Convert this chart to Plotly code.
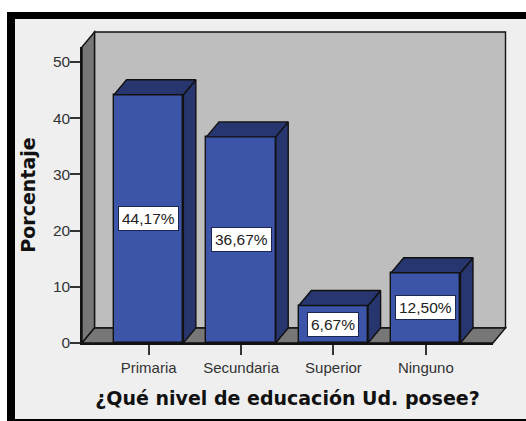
import plotly.graph_objects as go

categories = ["Primaria", "Secundaria", "Superior", "Ninguno"]
percentages = [44.17, 36.67, 6.67, 12.50]
value_labels = ["44,17%", "36,67%", "6,67%", "12,50%"]
y_ticks = [0, 10, 20, 30, 40, 50]
x_title = "¿Qué nivel de educación Ud. posee?"
y_title = "Porcentaje"

W, H = 526, 421
L, R, T, B = 82, 493, 47, 343       # front plane of the 3D box, in pixels
DX, DY = 12.5, 15                   # depth offset, in pixels
XMIN, XMAX = -0.722, 3.727
YMAX = 52.67
BAR_W = 0.75
dx = DX / (R - L) * (XMAX - XMIN)
dy = DY / (B - T) * YMAX
positions = list(range(len(categories)))

FRONT, DARK, WALL, FLOOR, BG, INK = "#3D55A8", "#27366F", "#BEBEBE", "#777777", "#EFEFEF", "#111111"


def px(x):
    return x / W


def py(y):
    return 1 - y / H


def poly(pts, fill, width=1.4):
    path = "M" + " L".join(f"{px(a):.5f},{py(b):.5f}" for a, b in pts) + " Z"
    return dict(type="path", xref="paper", yref="paper", path=path, fillcolor=fill,
                line=dict(color=INK, width=width), layer="below")


def rect(x0, y0, x1, y1, fill):
    return dict(type="rect", xref="paper", yref="paper", x0=px(x0), x1=px(x1), y0=py(y0), y1=py(y1),
                fillcolor=fill, line=dict(width=0), layer="below")


shapes = [
    rect(7, 12, W, H, "#000000"),
    rect(15, 19, W, 419, BG),
    poly([(L + DX, T - DY), (R + DX, T - DY), (R + DX, B - DY), (L + DX, B - DY)], WALL),
    poly([(L, T), (L + DX, T - DY), (L + DX, B - DY), (L, B)], FLOOR),
    poly([(L, B), (L + DX, B - DY), (R + DX, B - DY), (R, B)], FLOOR),
]

fig = go.Figure()

fig.add_trace(go.Bar(x=positions, y=percentages, width=BAR_W, marker=dict(color=FRONT, line=dict(color=INK, width=1.4)),
                     showlegend=False, hoverinfo="skip"))

for p, v in zip(positions, percentages):
    a, b = p - BAR_W / 2, p + BAR_W / 2
    fig.add_trace(go.Scatter(x=[b, b + dx, b + dx, b, b], y=[0, dy, v + dy, v, 0], mode="lines", fill="toself",
                             fillcolor=DARK, line=dict(color=INK, width=1.4), cliponaxis=False,
                             showlegend=False, hoverinfo="skip"))
    fig.add_trace(go.Scatter(x=[a, a + dx, b + dx, b, a], y=[v, v + dy, v + dy, v, v], mode="lines", fill="toself",
                             fillcolor=DARK, line=dict(color=INK, width=1.4), cliponaxis=False,
                             showlegend=False, hoverinfo="skip"))

annotations = [
    dict(x=p, y=v / 2, xref="x", yref="y", text=t, showarrow=False, bgcolor="#FFFFFF", bordercolor="#1A2550",
         borderwidth=1, borderpad=3, font=dict(family="Liberation Sans", size=15.5, color="#222222"))
    for p, v, t in zip(positions, percentages, value_labels)
]

fig.update_layout(
    width=W, height=H, margin=dict(l=0, r=0, t=0, b=0, autoexpand=False), paper_bgcolor="#FFFFFF",
    plot_bgcolor="rgba(0,0,0,0)",
    shapes=shapes, annotations=annotations, bargap=0,
    font=dict(family="Liberation Sans", size=14, color="#333333"),
    xaxis=dict(domain=[px(L), px(R)], range=[XMIN, XMAX], tickmode="array", tickvals=positions, ticktext=categories,
               ticks="outside", ticklen=10, tickwidth=1.5, tickcolor="#333333", showgrid=False, zeroline=False,
               showline=True, linecolor=INK, linewidth=1.5, tickfont=dict(size=15, color="#333333"),
               title=dict(text=x_title, standoff=17, font=dict(family="DejaVu Sans", size=19, color="#111111", weight="bold"))),
    yaxis=dict(domain=[py(B), py(T)], range=[0, YMAX], tickmode="array", tickvals=y_ticks,
               ticks="outside", ticklen=10, tickwidth=1.5, tickcolor="#333333", showgrid=False, zeroline=False,
               showline=True, linecolor=INK, linewidth=1.5, tickfont=dict(size=15.5, color="#333333"),
               ticklabelstandoff=-3,
               title=dict(text=y_title, standoff=12, font=dict(family="DejaVu Sans", size=19, color="#111111", weight="bold"))),
)

fig.write_html("out.html", config=dict(displayModeBar=False),
               post_script="document.body.style.margin='0';")
